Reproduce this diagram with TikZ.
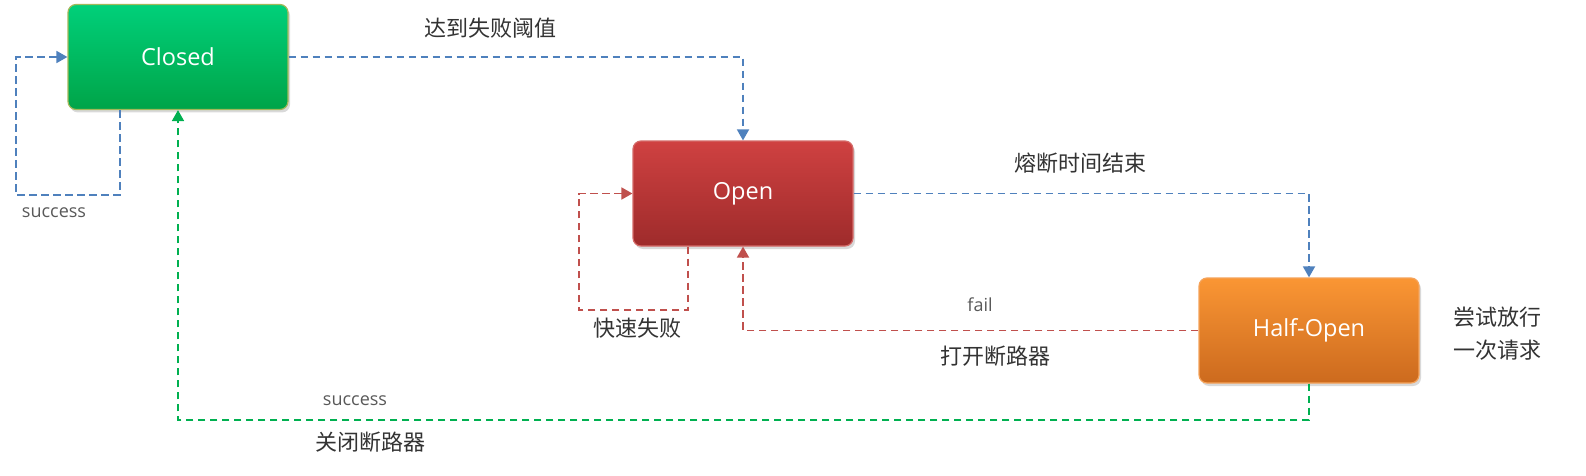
\documentclass[tikz,border=0pt]{standalone}
\usepackage{fontspec}
\setmainfont{Open Sans}
\newfontfamily\cjk{Noto Sans CJK SC}
\usetikzlibrary{arrows.meta,shadows}
\definecolor{cblue}{HTML}{4F81BD}
\definecolor{cred}{HTML}{C0504D}
\definecolor{cgreen}{HTML}{00B050}
\definecolor{ctext}{HTML}{333333}
\definecolor{cgray}{HTML}{595959}
\definecolor{gtop}{HTML}{00D07A}
\definecolor{gbot}{HTML}{00A448}
\definecolor{gbrd}{HTML}{A3B85A}
\definecolor{rtop}{HTML}{CF4141}
\definecolor{rbot}{HTML}{9E2B2B}
\definecolor{rbrd}{HTML}{D46A68}
\definecolor{otop}{HTML}{FA9634}
\definecolor{obot}{HTML}{CC6A1E}
\definecolor{obrd}{HTML}{F5A35A}
\tikzset{
  state/.style={rounded corners=8pt, minimum width=220pt, minimum height=105pt,
    text=white, font=\fontsize{23.5}{26}\selectfont, line width=1.2pt,
    drop shadow={shadow xshift=2pt, shadow yshift=-3pt, opacity=0.3}},
  conn/.style={line width=1.8pt, dash pattern=on 7.5pt off 4.5pt},
  tip/.style={-{Triangle[length=11pt,width=12pt]}},
  cjklab/.style={text=ctext, font=\cjk\fontsize{22}{28}\selectfont, inner sep=0pt, align=center},
  enlab/.style={text=cgray, font=\fontsize{18}{22}\selectfont, inner sep=0pt},
}
\begin{document}
\begin{tikzpicture}[x=1pt,y=-1pt]
% states
\node[state, draw=gbrd, top color=gtop, bottom color=gbot] (closed) at (178,57) {Closed};
\node[state, draw=rbrd, top color=rtop, bottom color=rbot] (open) at (743,193.5) {Open};
\node[state, draw=obrd, top color=otop, bottom color=obot] (half) at (1309,330.5) {Half-Open};
% closed -> open
\draw[conn, tip, cblue] (closed.east) -| (open.north);
\node[cjklab] (l1) at (490,28) {达到失败阈值};
% closed self loop
\coordinate (c1) at (120,195);
\coordinate (c2) at (16,195);
\draw[conn, tip, cblue] ([xshift=-58pt]closed.south) -- (c1) -- (c2) |- (closed.west);
\node[enlab] (s1) at (54,213) {success};
% open self loop
\coordinate (o1) at (688,310);
\coordinate (o2) at (579,310);
\draw[conn, tip, cred] ([xshift=-55pt]open.south) -- (o1) -- (o2) |- (open.west);
\node[cjklab] (l2) at (637,328) {快速失败};
% open -> half
\draw[conn, tip, cblue] (open.east) -| (half.north);
\node[cjklab] (l3) at (1080,163) {熔断时间结束};
% half -> open
\draw[conn, tip, cred] (half.west) -| (open.south);
\node[enlab] (f1) at (980,305) {fail};
\node[cjklab] (l4) at (995,356) {打开断路器};
% half -> closed
\coordinate (h1) at (1309,420);
\coordinate (h2) at (178,420);
\draw[conn, tip, cgreen] (half.south) -- (h1) -- (h2) -- (closed.south);
\node[enlab] (s2) at (355,401) {success};
\node[cjklab] (l5) at (370,442) {关闭断路器};
% note
\node[cjklab, font=\cjk\fontsize{22}{33}\selectfont] (l6) at (1497,334) {尝试放行\\一次请求};
\pgfresetboundingbox
\path[use as bounding box] (0,0) rectangle (1586,476);
\end{tikzpicture}
\end{document}
